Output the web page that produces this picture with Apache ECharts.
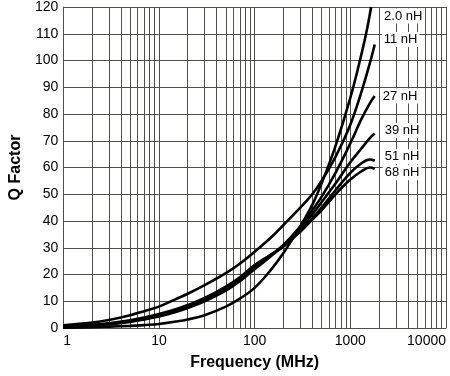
<!DOCTYPE html>
<html>
<head>
<meta charset="utf-8">
<script src="https://cdn.jsdelivr.net/npm/echarts@6/dist/echarts.min.js"></script>
<style>
  html, body { margin: 0; padding: 0; background: #fff; }
  #chart { width: 450px; height: 376px; }
</style>
</head>
<body>
<div id="chart"></div>
<script>
// frequency points (MHz)
const freq = [1, 2, 3, 5, 7, 10, 15, 20, 30, 50, 70, 100, 150, 200, 300, 400, 500, 700, 1000, 1300, 1600, 1800]
// the 2.0 nH curve leaves the top of the plot before 1800 MHz
const freq2nH = [1, 2, 3, 5, 7, 10, 15, 20, 30, 50, 70, 100, 150, 200, 300, 400, 500, 700, 1000, 1300, 1500, 1650]

const q2nH = [0.1, 0.3, 0.5, 0.8, 1.1, 1.5, 2.4, 3.2, 4.8, 8, 11, 15, 22, 28, 38, 46, 54, 68, 86, 102, 112, 120]
const q11nH = [1, 2, 3, 4.8, 6.3, 8, 10.8, 12.8, 16, 20.5, 24, 28.5, 34, 38.5, 45, 50, 55, 64, 76, 88, 99, 106]
const q27nH = [0.4, 0.9, 1.4, 2.3, 3.2, 4.3, 6, 7.5, 10, 14, 17.5, 22, 27, 31, 38, 44, 49, 58, 69, 78, 84, 86.7]
const q39nH = [0.5, 1.0, 1.5, 2.5, 3.4, 4.6, 6.3, 7.8, 10.3, 14.5, 18, 22.5, 27.5, 31, 37.5, 42.5, 47, 54, 62, 67, 71, 72.7]
const q51nH = [0.5, 1.1, 1.6, 2.7, 3.7, 4.9, 6.7, 8.2, 10.8, 15, 18.5, 23, 27.5, 30.5, 36.5, 41, 45, 51.5, 58, 61.5, 63, 62.5]
const q68nH = [0.6, 1.2, 1.8, 2.9, 3.9, 5.2, 7, 8.6, 11.2, 15.5, 19, 23.5, 27.5, 30.5, 36, 40.5, 44, 50, 55.5, 58.5, 60, 59.5]

const seriesNames = ['2.0 nH', '11 nH', '27 nH', '39 nH', '51 nH', '68 nH']
const decades = [1, 10, 100, 1000]
const minorSteps = [2, 3, 4, 5, 6, 7, 8, 9]

const font = "'Liberation Sans', Arial, sans-serif"
const gridColor = '#4f4f4a'

const curves = [
  { x: freq2nH, q: q2nH, offset: [3, 9] },
  { x: freq, q: q11nH, offset: [-1, -5] },
  { x: freq, q: q27nH, offset: [-2, 0] },
  { x: freq, q: q39nH, offset: [0, -3] },
  { x: freq, q: q51nH, offset: [0, -4] },
  { x: freq, q: q68nH, offset: [0, 4] },
]

const minorLines = []
decades.forEach((d) => minorSteps.forEach((m) => minorLines.push({ xAxis: d * m })))

const chart = echarts.init(document.getElementById('chart'))

const series = curves.map((c, i) => ({
  name: seriesNames[i],
  type: 'line',
  data: c.x.map((f, j) => [f, c.q[j]]),
  smooth: 0.4,
  showSymbol: false,
  symbol: 'none',
  z: 5,
  lineStyle: { color: '#000', width: 2.6 },
  endLabel: {
    show: true,
    formatter: seriesNames[i],
    color: '#000',
    fontSize: 13,
    fontFamily: font,
    backgroundColor: '#fff',
    padding: [1, 2],
    offset: c.offset,
  },
}))

// minor log gridlines
series.push({
  type: 'line',
  data: [],
  z: 1,
  silent: true,
  markLine: {
    silent: true,
    symbol: 'none',
    label: { show: false },
    animation: false,
    lineStyle: { color: gridColor, width: 1, type: 'solid' },
    data: minorLines,
  },
})

chart.setOption({
  animation: false,
  backgroundColor: '#fff',
  grid: { left: 48, right: 4, top: 5, bottom: 47 },
  xAxis: {
    type: 'log',
    logBase: 10,
    min: 1,
    max: 10000,
    name: 'Frequency (MHz)',
    nameLocation: 'middle',
    nameGap: 27,
    nameTextStyle: { fontSize: 16, fontWeight: 'bold', color: '#000', fontFamily: font },
    axisLine: { show: true, lineStyle: { color: gridColor, width: 1 } },
    axisTick: { show: false },
    axisLabel: {
      color: '#000',
      fontSize: 14,
      fontFamily: font,
      margin: 6,
      alignMinLabel: 'left',
      alignMaxLabel: 'right',
      formatter: (v) => String(Math.round(v)),
    },
    splitLine: { show: true, lineStyle: { color: gridColor, width: 1 } },
  },
  yAxis: {
    type: 'value',
    min: 0,
    max: 120,
    interval: 10,
    name: 'Q Factor',
    nameLocation: 'middle',
    nameGap: 27,
    nameRotate: 90,
    nameTextStyle: { fontSize: 16, fontWeight: 'bold', color: '#000', fontFamily: font },
    axisLine: { show: true, lineStyle: { color: gridColor, width: 1 } },
    axisTick: { show: false },
    axisLabel: { color: '#000', fontSize: 14, fontFamily: font, margin: 5 },
    splitLine: { show: true, lineStyle: { color: gridColor, width: 1 } },
  },
  series,
})
</script>
</body>
</html>
